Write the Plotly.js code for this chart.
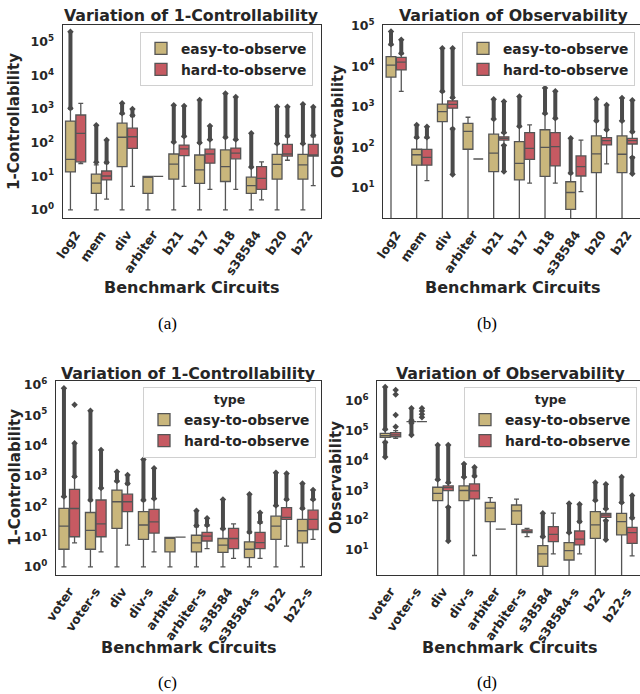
<!DOCTYPE html>
<html>
<head>
<meta charset="utf-8">
<script src="https://cdn.plot.ly/plotly-3.0.1.min.js"></script>
<style>html,body{margin:0;padding:0;background:#fff;}#chart{width:640px;height:694px;}</style>
</head>
<body>
<div id="chart"></div>
<script>
// ---------------- DATA ----------------
// stats per box: [lowerWhisker, q1, median, q3, upperWhisker]
const catsTop = ['log2','mem','div','arbiter','b21','b17','b18','s38584','b20','b22'];
const catsBottom = ['voter','voter-s','div','div-s','arbiter','arbiter-s','s38584','s38584-s','b22','b22-s'];

// (a) 1-Controllability, top set
const aEasy = [[1,13.5,32,440,1000],[1,3.1,6.3,11.6,22],[1,19.5,145,380,700],[1,3.1,10,10,10],[1,8.2,23,46,100],
               [1,6.2,15.5,43,95],[1,7,19.5,61,140],[1,3.1,5.3,9.4,18],[1,8.2,22.7,45,90],[1,8.2,22,45,90]];
const aHard = [[24,27,190,665,1480],[2.1,7.8,10.2,14.4,24],[5,68,150,270,600],[10,10,10,10,10],[5,41,65,85,150],
               [4.1,24.5,46,64,120],[4.1,33,49,69,120],[2,4.1,8.7,19.5,27],[30,40,46,89,150],[5.3,40,43,89,150]];
const aEasyOut = [[1050,200000],[26,330],[750,1480],null,[105,1300],[100,1850],[145,2900],[19,190],[95,1170],[95,1400]];
const aHardOut = [null,[26,120],[650,1000],null,[155,1230],[125,315],[125,2300],null,[160,1170],[165,1150]];

// (b) Observability, top set
const bEasy = [[1,5400,10700,17400,33000],[1,36,65,89,165],[1,430,760,1160,2300],[1,89,245,390,550],[1,25,71,210,480],
               [1,15.5,40,138,320],[1,19,99,270,650],[1,2.9,7.6,14,22],[1,23.5,68,190,430],[1,23.5,67,190,430]];
const bHard = [[2400,8100,12600,16600,20000],[15,36,56,88,165],[295,920,1150,1400,1620],[51,51,51,51,51],[114,150,165,180,220],
               [13,50,94,230,355],[13,34.5,103,230,500],[8,19.4,33,61,150],[38.6,114,145,173,260],[58,120,145,166,230]];
const bEasyOut = [[35000,72000],[175,355],[2400,28000],null,[500,1540],[330,1780],[690,2900],[23,166],[450,1540],[450,1640]];
const bHardOut = [[21000,45000],[175,320],[1700,28000],null,[230,1350],null,[520,2400],null,[270,1100],[240,1450]];
const bHardOutLow = [null,null,[21,280],null,[25,110],null,null,null,null,[22,55]];

// (c) 1-Controllability, bottom set
const cEasy = [[1,3.8,22,85,200],[1,3.8,16,62,150],[1,18.5,140,340,640],[1,8,24,66,150],[1,3.1,9.3,9.3,9.3],
               [1,3.1,6.2,11,21],[1,3,5.2,8.6,17],[1,2,3.8,6.7,13],[1,8,22,47,100],[1,6.2,15.5,36.6,80]];
const cHard = [[6.2,9.8,84,360,900],[3.1,9.8,26,160,380],[5.2,66,140,250,520],[3.1,13,30.6,78,170],[9.5,9.5,9.5,9.5,9.5],
               [4,7.1,10.3,13.6,22],[1.9,4,8.6,18.5,26],[1.9,4,6.3,13.6,27],[4.8,36.6,42.6,89,160],[8,17,36.6,74,160]];
const cEasyOut = [[210,780000],[160,142000],[680,1380],[160,3500],null,[23,71],[18.5,166],[14,250],[105,1270],[85,560]];
const cHardOut = [[950,12000],[400,7100],[560,1070],[180,1780],null,[24,40],null,[30,61],[170,1200],[170,340]];
const cHardExtraCat = ['voter'];
const cHardExtraVal = [220000];

// (d) Observability, bottom set
const dEasy = [[43000,59000,68000,81000,105000],[200000,200000,200000,200000,200000],[1,450,790,1260,2200],[1,450,980,1400,2700],
               [1,89,250,395,565],[1,72,205,320,500],[1,2.8,7.4,14,26],[1,4.6,9.5,17.6,36],[1,24.5,69,192,440],[1,32,89,168,370]];
const dHard = [[55000,62000,72000,85000,100000],[200000,200000,200000,200000,200000],[280,970,1230,1390,1700],[6.5,510,950,1630,2800],
               [50,50,50,50,50],[28,38,41,47,53],[7.4,19,33,60,170],[7.4,14.7,23,43,82],[100,123,148,168,230],[6.3,16.7,38,57,110]];
const dEasyOut = [[110000,2900000],[220000,560000],[2300,33000],[2800,7600],null,null,[28,170],[38,360],[460,1800],[390,2800]];
const dHardOut = [null,null,[1800,33000],[3000,5900],null,null,null,[90,340],[240,1600],[120,660]];
const dEasyOutLow = [[13000,40000],[71000,180000],null,null,null,null,null,null,null,null];
const dHardOutLow = [null,null,[20,270],null,null,null,null,null,[22,95],null];
const dHardExtraCat = ['voter','voter','voter','voter','voter-s','voter-s','voter-s','voter-s'];
const dHardExtraVal = [135000,330000,1600000,2300000,280000,350000,450000,560000];

const seriesNames = ['easy-to-observe','hard-to-observe'];

// ---------------- STYLE ----------------
const W = 640, H = 694;
const easyColor = '#c9b67c', hardColor = '#c65a62';
const boxLine = '#555555', outColor = '#4a4a4a', txt = '#262626';
const px = v => v / W, py = v => 1 - v / H;

const traces = [];
function addSeries(xa, ya, legendId, cats, stats, color, name, off, outs, outsLow, extraCat, extraVal) {
  const xs = cats.map((c, i) => i + off);
  traces.push({
    type: 'box', xaxis: xa, yaxis: ya, legend: legendId, name: name, showlegend: true,
    x: xs,
    lowerfence: stats.map(s => s[0]), q1: stats.map(s => s[1]), median: stats.map(s => s[2]),
    q3: stats.map(s => s[3]), upperfence: stats.map(s => s[4]),
    width: 0.38, whiskerwidth: 0.5, fillcolor: color,
    line: {color: boxLine, width: 1.3}, boxpoints: false, hoverinfo: 'skip'
  });
  const ox = [], oy = [];
  [outs, outsLow].forEach(arr => {
    if (!arr) return;
    arr.forEach((r, i) => { if (r) { ox.push(xs[i], xs[i], null); oy.push(r[0], r[1], null); } });
  });
  if (ox.length) traces.push({
    type: 'scatter', mode: 'lines+markers', xaxis: xa, yaxis: ya, showlegend: false, hoverinfo: 'skip',
    x: ox, y: oy, line: {color: outColor, width: 4}, marker: {symbol: 'diamond', size: 5, color: outColor}
  });
  if (extraCat) traces.push({
    type: 'scatter', mode: 'markers', xaxis: xa, yaxis: ya, showlegend: false, hoverinfo: 'skip',
    x: extraCat.map(c => cats.indexOf(c) + off), y: extraVal,
    marker: {symbol: 'diamond', size: 5, color: outColor}
  });
}
addSeries('x','y','legend',catsTop,aEasy,easyColor,seriesNames[0],-0.2,aEasyOut,null);
addSeries('x','y','legend',catsTop,aHard,hardColor,seriesNames[1],0.2,aHardOut,null);
addSeries('x2','y2','legend2',catsTop,bEasy,easyColor,seriesNames[0],-0.2,bEasyOut,null);
addSeries('x2','y2','legend2',catsTop,bHard,hardColor,seriesNames[1],0.2,bHardOut,bHardOutLow);
addSeries('x3','y3','legend3',catsBottom,cEasy,easyColor,seriesNames[0],-0.2,cEasyOut,null);
addSeries('x3','y3','legend3',catsBottom,cHard,hardColor,seriesNames[1],0.2,cHardOut,null,cHardExtraCat,cHardExtraVal);
addSeries('x4','y4','legend4',catsBottom,dEasy,easyColor,seriesNames[0],-0.2,dEasyOut,dEasyOutLow);
addSeries('x4','y4','legend4',catsBottom,dHard,hardColor,seriesNames[1],0.2,dHardOut,dHardOutLow,dHardExtraCat,dHardExtraVal);

const tickFont = {family: 'DejaVu Sans', size: 12.5, weight: 'bold', color: txt};
function xAxis(domain, anchor, cats, mirror) {
  return {domain: domain, anchor: anchor, range: [-0.5, 9.5], tickvals: cats.map((c, i) => i), ticktext: cats,
    tickangle: -55, tickfont: tickFont, showgrid: false, zeroline: false, showline: true, mirror: mirror,
    linecolor: '#333', linewidth: 1.2, ticks: 'outside', ticklen: 3, tickcolor: 'rgba(0,0,0,0)', fixedrange: true};
}
function yAxis(domain, anchor, range, decades, mirror) {
  return {domain: domain, anchor: anchor, type: 'log', range: range,
    tickvals: decades.map(d => Math.pow(10, d)), ticktext: decades.map(d => '10<sup>' + d + '</sup>'),
    tickfont: {family: 'DejaVu Sans', size: 12.5, weight: 'bold', color: txt},
    showgrid: false, zeroline: false, showline: true, mirror: mirror, linecolor: '#333', linewidth: 1.2,
    ticks: 'outside', ticklen: 5, tickcolor: 'rgba(0,0,0,0)', fixedrange: true};
}
function legendAt(xRight, yTop, withTitle) {
  const l = {x: px(xRight), y: py(yTop), xanchor: 'right', yanchor: 'top', bgcolor: 'rgba(255,255,255,0.85)',
    bordercolor: '#d0d0d0', borderwidth: 1, font: {family: 'DejaVu Sans', size: 13.8, weight: 'bold', color: txt},
    traceorder: 'normal', itemwidth: 30, tracegroupgap: 0};
  if (withTitle) l.title = {text: 'type', side: 'top center', font: {family: 'DejaVu Sans', size: 12.5, weight: 'bold', color: txt}};
  return l;
}
const ann = [];
function label(text, x, y, size, opts) {
  ann.push(Object.assign({text: text, x: px(x), y: py(y), xref: 'paper', yref: 'paper', showarrow: false,
    xanchor: 'center', yanchor: 'middle', font: {family: 'DejaVu Sans', size: size, weight: 'bold', color: txt}}, opts || {}));
}
label('Variation of 1-Controllability', 191, 15, 15.8);
label('Variation of Observability', 513, 15, 15.8);
label('Variation of 1-Controllability', 188, 373, 15.8);
label('Variation of Observability', 510, 373, 15.8);
label('1-Controllability', 14, 122, 15, {textangle: -90});
label('Observability', 338, 122, 15, {textangle: -90});
label('1-Controllability', 15, 478, 15, {textangle: -90});
label('Observability', 336, 478, 15, {textangle: -90});
label('Benchmark Circuits', 192, 287, 16);
label('Benchmark Circuits', 513, 287, 16);
label('Benchmark Circuits', 189, 647, 16);
label('Benchmark Circuits', 510, 647, 16);
const capFont = {family: 'Liberation Serif', size: 17, weight: 'normal', color: '#000'};
label('(a)', 167, 323, 17, {font: capFont});
label('(b)', 487, 323, 17, {font: capFont});
label('(c)', 167, 682, 17, {font: capFont});
label('(d)', 487, 682, 17, {font: capFont});

const layout = {
  width: W, height: H, margin: {l: 0, r: 0, t: 0, b: 0}, paper_bgcolor: '#fff', plot_bgcolor: '#fff',
  font: {family: 'DejaVu Sans', weight: 'bold', color: txt}, boxmode: 'overlay',
  xaxis: xAxis([px(62.7), px(321)], 'y', catsTop, true),
  yaxis: yAxis([py(218), py(25)], 'x', [-0.24, 5.5], [0,1,2,3,4,5], true),
  xaxis2: xAxis([px(383.3), 1], 'y2', catsTop, true),
  yaxis2: yAxis([py(218), py(25)], 'x2', [0.25, 5.02], [1,2,3,4,5], false),
  xaxis3: xAxis([px(56), px(321)], 'y3', catsBottom, true),
  yaxis3: yAxis([py(575), py(381)], 'x3', [-0.27, 6.13], [0,1,2,3,4,5,6], true),
  xaxis4: xAxis([px(377.3), 1], 'y4', catsBottom, true),
  yaxis4: yAxis([py(575), py(381)], 'x4', [0.16, 6.66], [1,2,3,4,5,6], false),
  legend: legendAt(313, 32, false),
  legend2: legendAt(635, 32, false),
  legend3: legendAt(316, 387, true),
  legend4: legendAt(637, 387, true),
  annotations: ann
};
Plotly.newPlot('chart', traces, layout, {staticPlot: true, displayModeBar: false});
</script>
</body>
</html>
